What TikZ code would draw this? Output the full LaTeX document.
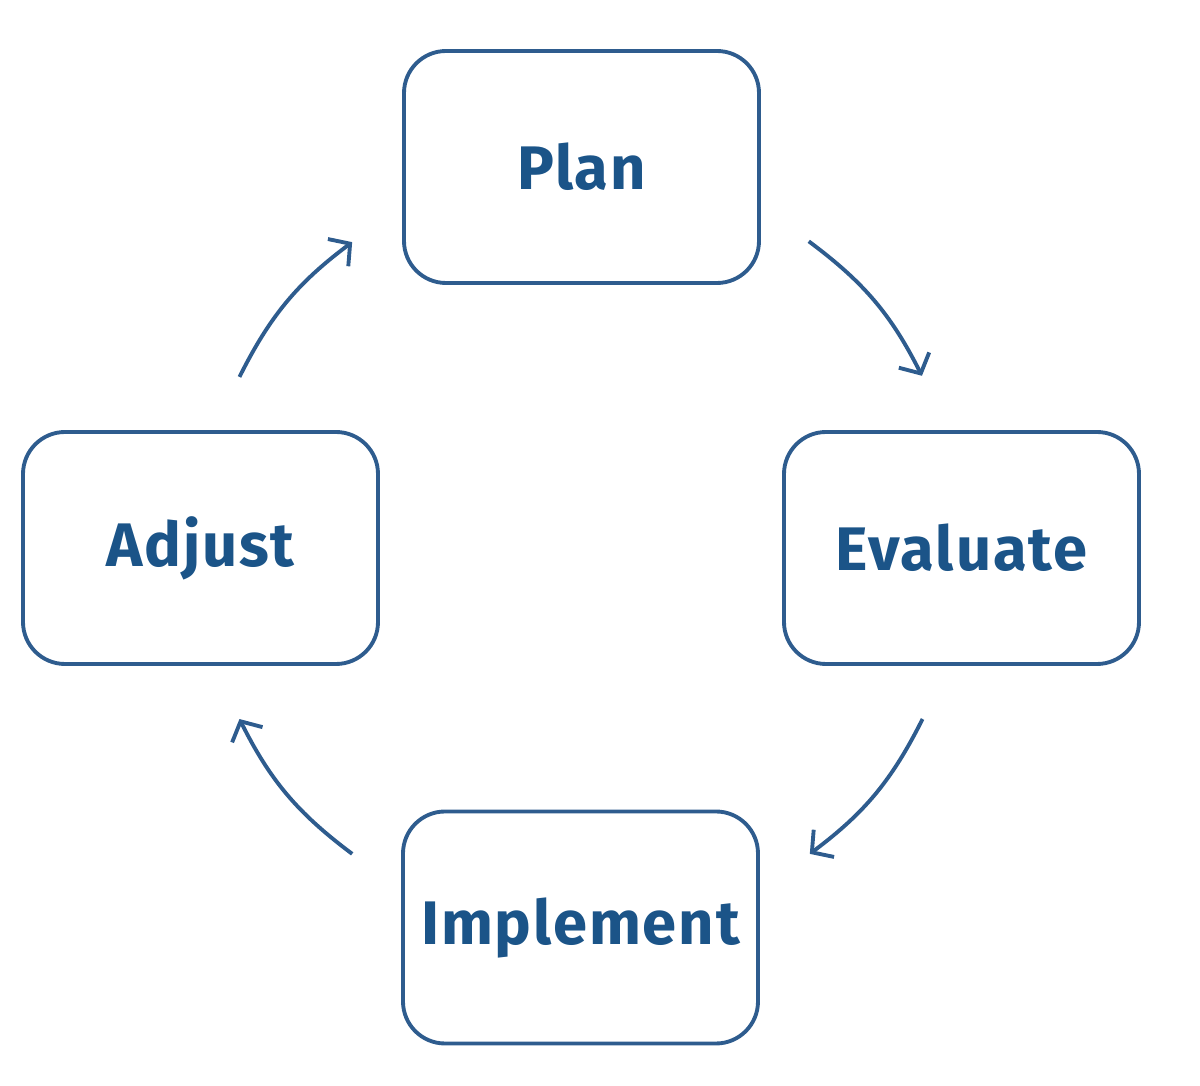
\documentclass[tikz,border=0pt]{standalone}
\usepackage{fontspec}
\setmainfont{Fira Sans}[LetterSpace=3]
\usepackage{tikz}
\usetikzlibrary{arrows.meta}
\definecolor{CycleBlue}{RGB}{46,92,142}
\definecolor{CycleText}{RGB}{27,84,136}

\begin{document}
\begin{tikzpicture}[
 stage/.style={draw=CycleBlue, line width=1.1pt, rounded corners=0.42cm, minimum width=3.55cm, minimum height=2.32cm, text=CycleText, font=\bfseries\fontsize{17.5}{20}\selectfont},
 cyc/.style={draw=CycleBlue, line width=1.1pt, -{Straight Barb[length=1.5mm, width=3.4mm, line width=1.1pt]}},
]
\useasboundingbox (0,0) rectangle (12,-10.86);
\node[stage] (plan) at (5.815,-1.67) {Plan};
\node[stage] (evaluate) at (9.615,-5.48) {Evaluate};
\node[stage] (implement) at (5.805,-9.275) {Implement};
\node[stage] (adjust) at (2.005,-5.48) {Adjust};

% ends of the cycle arrows, on a circle round the middle
\coordinate (mid) at (5.81,-5.48);
\coordinate (pe1) at ([shift={(53.4:3.82)}]mid);
\coordinate (pe2) at ([shift={(26.8:3.82)}]mid);
\coordinate (ei1) at ([shift={(-26.6:3.82)}]mid);
\coordinate (ei2) at ([shift={(-53.2:3.82)}]mid);
\coordinate (ia1) at ([shift={(233.2:3.82)}]mid);
\coordinate (ia2) at ([shift={(206.6:3.82)}]mid);
\coordinate (ap1) at ([shift={(153.4:3.82)}]mid);
\coordinate (ap2) at ([shift={(126.8:3.82)}]mid);

\draw[cyc] (pe1) to[bend left=13.3] (pe2);
\draw[cyc] (ei1) to[bend left=13.3] (ei2);
\draw[cyc] (ia1) to[bend left=13.3] (ia2);
\draw[cyc] (ap1) to[bend left=13.3] (ap2);
\end{tikzpicture}
\end{document}
